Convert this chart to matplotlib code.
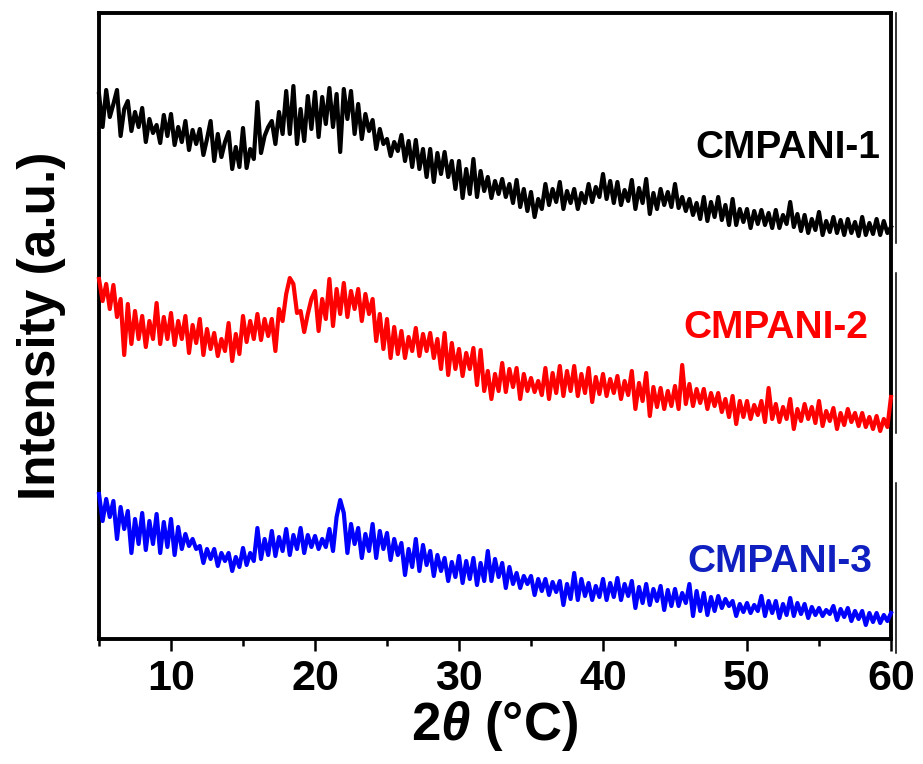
import numpy as np
import matplotlib
matplotlib.use("Agg")
import matplotlib.pyplot as plt
from matplotlib.ticker import MultipleLocator

plt.rcParams['font.family'] = ['Liberation Sans', 'DejaVu Sans']
plt.rcParams['font.weight'] = 'bold'
plt.rcParams['mathtext.fontset'] = 'custom'
plt.rcParams['mathtext.rm'] = 'Liberation Sans:bold'
plt.rcParams['mathtext.it'] = 'Liberation Sans:italic:bold'

# 2theta grid, 0.25 deg step from 5 to 60
two_theta = np.arange(5, 60.001, 0.25)

# stacked XRD patterns (a.u., offsets already included), 4 points per degree
cmpani_1 = [
    545, 512, 549, 522,   # 5
    535, 549, 503, 530,   # 6
    538, 508, 527, 512,   # 7
    531, 497, 520, 506,   # 8
    514, 496, 524, 503,   # 9
    525, 494, 512, 497,   # 10
    518, 489, 509, 495,   # 11
    510, 484, 500, 518,   # 12
    478, 505, 482, 497,   # 13
    507, 470, 492, 472,   # 14
    511, 471, 490, 480,   # 15
    537, 486, 503, 512,   # 16
    518, 495, 527, 505,   # 17
    548, 505, 553, 495,   # 18
    530, 498, 543, 510,   # 19
    547, 502, 542, 515,   # 20
    551, 512, 545, 487,   # 21
    550, 520, 548, 505,   # 22
    535, 500, 525, 508,   # 23
    519, 490, 510, 495,   # 24
    500, 483, 497, 488,   # 25
    504, 478, 498, 472,   # 26
    499, 470, 490, 462,   # 27
    490, 457, 486, 465,   # 28
    487, 462, 478, 450,   # 29
    478, 441, 470, 445,   # 30
    480, 442, 468, 448,   # 31
    462, 441, 458, 445,   # 32
    460, 442, 455, 436,   # 33
    459, 432, 450, 428,   # 34
    447, 422, 440, 430,   # 35
    455, 434, 450, 437,   # 36
    457, 430, 448, 436,   # 37
    450, 430, 446, 436,   # 38
    455, 437, 452, 442,   # 39
    465, 440, 458, 436,   # 40
    457, 434, 449, 438,   # 41
    459, 430, 451, 436,   # 42
    460, 425, 446, 430,   # 43
    450, 434, 447, 432,   # 44
    455, 431, 442, 428,   # 45
    440, 424, 436, 420,   # 46
    442, 418, 437, 422,   # 47
    442, 419, 434, 414,   # 48
    440, 414, 430, 417,   # 49
    430, 411, 428, 415,   # 50
    429, 414, 426, 411,   # 51
    429, 411, 424, 415,   # 52
    437, 412, 425, 408,   # 53
    424, 406, 420, 409,   # 54
    427, 404, 418, 407,   # 55
    422, 406, 419, 404,   # 56
    420, 406, 417, 403,   # 57
    422, 404, 416, 405,   # 58
    420, 404, 418, 406,   # 59
    412,
]

cmpani_2 = [
    360, 338, 355, 330,   # 5
    354, 322, 340, 284,   # 6
    335, 295, 328, 300,   # 7
    323, 292, 318, 300,   # 8
    336, 295, 322, 300,   # 9
    326, 294, 318, 300,   # 10
    323, 286, 314, 296,   # 11
    320, 284, 310, 290,   # 12
    306, 283, 300, 288,   # 13
    316, 278, 305, 285,   # 14
    323, 297, 318, 300,   # 15
    325, 299, 320, 303,   # 16
    320, 288, 330, 318,   # 17
    345, 361, 355, 326,   # 18
    328, 307, 325, 340,   # 19
    348, 308, 340, 320,   # 20
    360, 313, 350, 325,   # 21
    356, 322, 348, 330,   # 22
    350, 318, 345, 325,   # 23
    340, 298, 325, 290,   # 24
    320, 281, 312, 285,   # 25
    308, 281, 302, 288,   # 26
    311, 283, 305, 288,   # 27
    306, 281, 300, 270,   # 28
    306, 264, 296, 270,   # 29
    290, 263, 286, 270,   # 30
    291, 254, 289, 248,   # 31
    268, 240, 265, 248,   # 32
    276, 247, 270, 252,   # 33
    271, 240, 265, 248,   # 34
    261, 247, 258, 244,   # 35
    271, 240, 266, 246,   # 36
    273, 243, 268, 248,   # 37
    273, 243, 265, 246,   # 38
    271, 237, 262, 245,   # 39
    265, 243, 260, 246,   # 40
    263, 240, 258, 244,   # 41
    268, 230, 256, 238,   # 42
    266, 223, 252, 232,   # 43
    251, 230, 248, 233,   # 44
    253, 230, 274, 235,   # 45
    255, 233, 250, 236,   # 46
    250, 230, 246, 233,   # 47
    246, 227, 240, 222,   # 48
    243, 215, 238, 222,   # 49
    238, 220, 234, 224,   # 50
    238, 217, 251, 220,   # 51
    235, 217, 232, 220,   # 52
    240, 210, 230, 218,   # 53
    235, 220, 232, 216,   # 54
    238, 213, 228, 218,   # 55
    231, 210, 226, 214,   # 56
    230, 217, 226, 213,   # 57
    226, 212, 222, 210,   # 58
    223, 208, 220, 212,   # 59
    242,
]

cmpani_3 = [
    145, 118, 140, 122,   # 5
    138, 100, 132, 110,   # 6
    128, 86, 120, 95,     # 7
    126, 89, 118, 95,     # 8
    125, 86, 117, 92,     # 9
    120, 84, 112, 90,     # 10
    105, 93, 100, 90,     # 11
    93, 76, 90, 80,       # 12
    90, 73, 86, 78,       # 13
    86, 68, 82, 72,       # 14
    91, 74, 86, 78,       # 15
    111, 80, 100, 84,     # 16
    108, 83, 102, 88,     # 17
    110, 84, 104, 90,     # 18
    111, 86, 104, 92,     # 19
    103, 90, 100, 92,     # 20
    110, 88, 122, 139,    # 21
    126, 86, 115, 95,     # 22
    111, 81, 105, 88,     # 23
    115, 81, 108, 90,     # 24
    106, 79, 100, 84,     # 25
    96, 64, 90, 72,       # 26
    100, 68, 94, 74,      # 27
    88, 63, 84, 68,       # 28
    81, 58, 77, 62,       # 29
    83, 56, 78, 60,       # 30
    81, 54, 76, 58,       # 31
    88, 58, 80, 62,       # 32
    76, 51, 72, 55,       # 33
    66, 51, 63, 55,       # 34
    63, 44, 60, 48,       # 35
    60, 44, 57, 47,       # 36
    58, 34, 55, 40,       # 37
    66, 39, 60, 43,       # 38
    56, 39, 53, 42,       # 39
    60, 39, 56, 42,       # 40
    61, 39, 55, 43,       # 41
    58, 31, 52, 36,       # 42
    55, 34, 50, 38,       # 43
    53, 29, 49, 33,       # 44
    50, 33, 46, 36,       # 45
    55, 23, 48, 28,       # 46
    46, 24, 42, 28,       # 47
    43, 31, 40, 33,       # 48
    38, 23, 35, 27,       # 49
    36, 26, 34, 28,       # 50
    43, 23, 38, 26,       # 51
    38, 21, 35, 24,       # 52
    41, 23, 36, 25,       # 53
    35, 21, 32, 24,       # 54
    31, 23, 29, 25,       # 55
    33, 19, 30, 22,       # 56
    31, 18, 28, 20,       # 57
    28, 14, 26, 17,       # 58
    26, 16, 24, 18,       # 59
    26,
]

names = ['CMPANI-1', 'CMPANI-2', 'CMPANI-3']
line_colors = ['black', '#ff0000', '#0000ff']
text_colors = ['black', '#ff0000', '#1020c0']
# where each sample name sits (right edge x, y)
name_pos = [(59.25, 491), (58.4, 311), (58.7, 77)]

fig = plt.figure(figsize=(9.23, 7.64), dpi=100)
ax = fig.add_axes([99 / 923, 1 - 639 / 764, 792 / 923, 626 / 764])

for ys, c in zip([cmpani_1, cmpani_2, cmpani_3], line_colors):
    ax.plot(two_theta, ys, color=c, lw=3.0, zorder=3, clip_on=False)

for n, (px, py), c in zip(names, name_pos, text_colors):
    ax.text(px, py, n, color=c, fontsize=28, fontweight='bold',
            ha='right', va='center')

ax.set_xlim(5, 60)
ax.set_ylim(0, 626)
ax.xaxis.set_major_locator(MultipleLocator(10))
ax.xaxis.set_minor_locator(MultipleLocator(5))
ax.set_yticks([])
ax.tick_params(axis='x', which='major', direction='out', length=8.5, width=1.8,
               labelsize=31, pad=6)
ax.tick_params(axis='x', which='minor', direction='out', length=5, width=1.8)
for lab in ax.get_xticklabels():
    lab.set_fontweight('bold')
for s in ax.spines.values():
    s.set_linewidth(2.8)

# thin right-edge strokes of the three stacked layers
for y0, y1 in [(1.0, 0.633), (0.585, 0.329), (0.249, -0.022)]:
    ax.plot([1.006, 1.006], [y0, y1], transform=ax.transAxes, color='black',
            lw=1.1, clip_on=False)

ax.set_xlabel(r'2$\theta$ (°C)', fontsize=38, fontweight='bold', labelpad=0)
ax.set_ylabel('Intensity (a.u.)', fontsize=37, fontweight='bold', labelpad=24)

fig.savefig('out.png', dpi=100)
